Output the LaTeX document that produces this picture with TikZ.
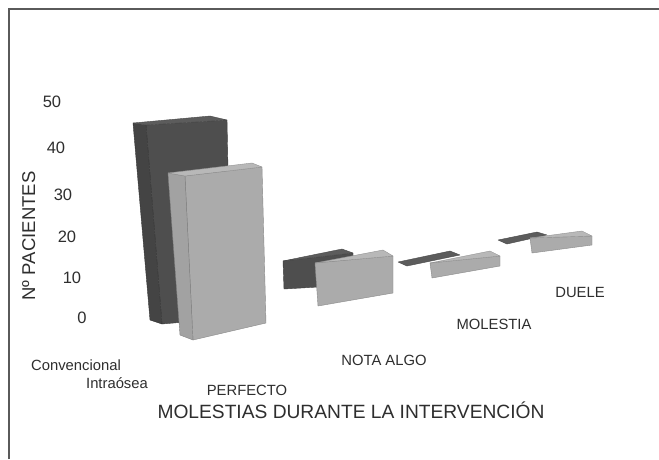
\documentclass[tikz,border=0pt]{standalone}
\usepackage{fontspec}
\setmainfont{Liberation Sans}
\begin{document}
\begin{tikzpicture}[x=1pt,y=-1pt,
  lbl/.style={anchor=base,inner sep=0pt,text=txtc,font=\fontsize{14.8}{16}\selectfont},
  tick/.style={anchor=base,inner sep=0pt,text=txtc,font=\fontsize{16.5}{18}\selectfont},
  darkfront/.style={fill=dkf,draw=dkf!80!black,line width=0.4pt,line join=round},
  darkside/.style={fill=dks,draw=dks!80!black,line width=0.4pt,line join=round},
  darktop/.style={fill=dkt,draw=dkt!80!black,line width=0.4pt,line join=round},
  lightfront/.style={fill=ltf,draw=ltf!80!black,line width=0.4pt,line join=round},
  lightside/.style={fill=lts,draw=lts!80!black,line width=0.4pt,line join=round},
  lighttop/.style={fill=ltt,draw=ltt!80!black,line width=0.4pt,line join=round}]
\definecolor{txtc}{HTML}{2E2E2E}
\definecolor{dkf}{HTML}{4E4E4E}
\definecolor{dks}{HTML}{444444}
\definecolor{dkt}{HTML}{5C5C5C}
\definecolor{ltf}{HTML}{ABABAB}
\definecolor{lts}{HTML}{A2A2A2}
\definecolor{ltt}{HTML}{B8B8B8}
\definecolor{framec}{HTML}{5A5A5A}
\useasboundingbox[fill=white] (0,0) rectangle (659,459);
% frame (top and left edges visible)
\draw[framec,line width=1.4pt] (9,459) -- (9,9) -- (659,9);
% ---- tall bars (PERFECTO) ----
\fill[darkfront] (146,125) -- (227,120) -- (231,318) -- (162,324) -- cycle;
\fill[darkside] (133,123) -- (146,125) -- (162,324) -- (150,320) -- cycle;
\fill[darktop] (133,123) -- (210,116) -- (227,120) -- (146,125) -- cycle;
\fill[lightfront] (185,176) -- (262,167) -- (266,323) -- (193,340) -- cycle;
\fill[lightside] (168,173) -- (185,176) -- (193,340) -- (180,335) -- cycle;
\fill[lighttop] (168,173) -- (252,163) -- (262,167) -- (185,176) -- cycle;
% ---- NOTA ALGO ----
\fill[darkfront] (283,261) -- (353,253) -- (353,285) -- (284,289) -- cycle;
\fill[darktop] (283,261) -- (342,249) -- (353,253) -- cycle;
\fill[lightfront] (315,263) -- (393,256) -- (393,293) -- (318,306) -- cycle;
\fill[lighttop] (315,263) -- (383,250) -- (393,256) -- cycle;
% ---- MOLESTIA ----
\fill[darktop] (398,262) -- (450,251) -- (460,255) -- (407,266) -- cycle;
\fill[lightfront] (430,263) -- (500,256) -- (500,266) -- (432,278) -- cycle;
\fill[lighttop] (430,263) -- (490,251) -- (500,256) -- cycle;
% ---- DUELE ----
\fill[darktop] (498,240) -- (537,232) -- (547,235) -- (507,244) -- cycle;
\fill[lightfront] (530,238) -- (592,236) -- (592,245) -- (532,253) -- cycle;
\fill[lighttop] (530,238) -- (582,231) -- (592,236) -- cycle;
% ---- axis ticks ----
\node[tick] (t50) at (52,107) {50};
\node[tick] (t40) at (56,153) {40};
\node[tick] (t30) at (63,200) {30};
\node[tick] (t20) at (67,242) {20};
\node[tick] (t10) at (72,283) {10};
\node[tick] (t0) at (82,323) {0};
\node[anchor=base,inner sep=0pt,text=txtc,rotate=90,font=\fontsize{18.5}{20}\selectfont] (ytitle) at (35,236) {Nº PACIENTES};
% ---- labels ----
\node[lbl] (conv) at (76,370) {Convencional};
\node[lbl] (intra) at (117,388) {Intraósea};
\node[lbl] (perf) at (247,395) {PERFECTO};
\node[lbl] (nota) at (384,365) {NOTA ALGO};
\node[lbl] (mol) at (494,329) {MOLESTIA};
\node[lbl] (duele) at (580,297) {DUELE};
\node[anchor=base,inner sep=0pt,text=txtc,font=\fontsize{19.2}{21}\selectfont] (xtitle) at (351,418) {MOLESTIAS DURANTE LA INTERVENCIÓN};
\end{tikzpicture}
\end{document}
